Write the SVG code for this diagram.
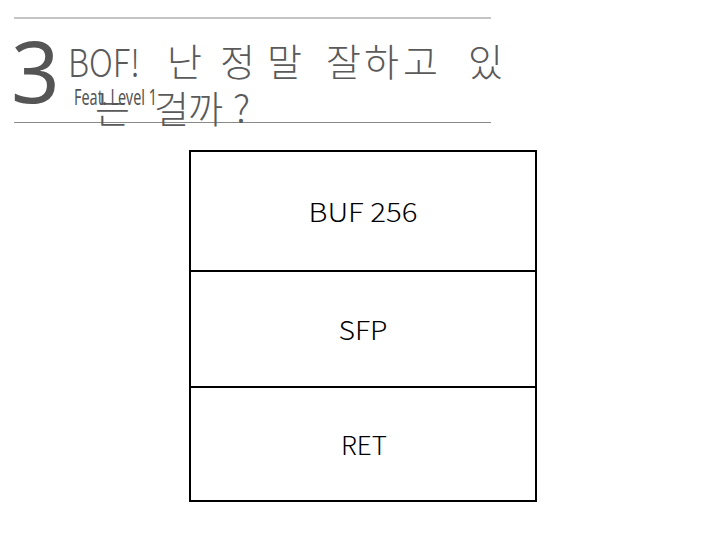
<svg xmlns="http://www.w3.org/2000/svg" width="720" height="540" viewBox="0 0 720 540">
<style>
.rule{stroke:#8a8a8a;stroke-width:1}
.title{font-family:"Noto Sans CJK KR","Noto Sans",sans-serif;fill:#5a5a5a;font-size:38px;font-weight:200}
.cell{fill:#fff;stroke:#000;stroke-width:2}
.lbl{font-family:"Noto Sans CJK KR","Noto Sans",sans-serif;font-weight:200;font-size:26px;fill:#000;text-anchor:middle}
</style>
<rect width="720" height="540" fill="#fff"/>
<g id="header">
<line class="rule" x1="14" y1="18" x2="491" y2="18"/>
<line class="rule" x1="14" y1="122.5" x2="491" y2="122.5"/>
<text x="11" y="103" font-family="Noto Sans,Liberation Sans,sans-serif" font-size="85" fill="#555">3</text>
<text class="title" x="68" y="77" font-size="40" textLength="72" lengthAdjust="spacingAndGlyphs">BOF!</text>
<text class="title" y="76"><tspan x="167">난</tspan><tspan x="220">정</tspan><tspan x="267">말</tspan><tspan x="326">잘</tspan><tspan x="364">하</tspan><tspan x="403">고</tspan><tspan x="468">있</tspan></text>
<text class="title" y="123"><tspan x="95">는</tspan><tspan x="154">걸</tspan><tspan x="188">까</tspan><tspan x="233">?</tspan></text>
<text x="74" y="105" font-family="Noto Sans,Liberation Sans,sans-serif" font-size="21" fill="#555" textLength="83" lengthAdjust="spacingAndGlyphs">Feat. Level 1</text>
</g>
<g id="stack">
<g id="buf"><rect class="cell" x="190" y="151" width="346" height="120"/><text class="lbl" x="363" y="222" textLength="109" lengthAdjust="spacingAndGlyphs">BUF 256</text></g>
<g id="sfp"><rect class="cell" x="190" y="271" width="346" height="116"/><text class="lbl" x="363" y="340" textLength="49" lengthAdjust="spacingAndGlyphs">SFP</text></g>
<g id="ret"><rect class="cell" x="190" y="387" width="346" height="114"/><text class="lbl" x="364" y="455" textLength="46" lengthAdjust="spacingAndGlyphs">RET</text></g>
</g>
<g id="connectors"/>
</svg>
